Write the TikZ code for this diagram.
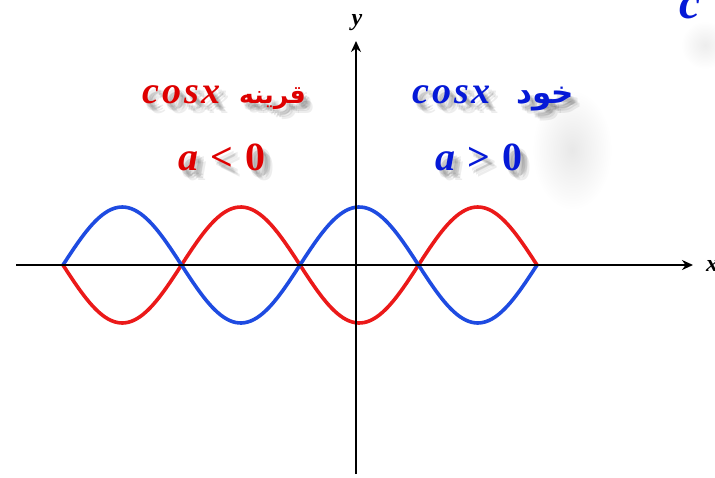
\documentclass[tikz,border=0pt]{standalone}
\usepackage{fontspec}
\setmainfont{Liberation Serif}
\newfontfamily\arabicfont[Script=Arabic]{DejaVu Sans}
\TeXXeTstate=1
\usetikzlibrary{arrows.meta}
\definecolor{cred}{RGB}{235,25,25}
\definecolor{cblue}{RGB}{30,75,225}
\definecolor{tred}{RGB}{222,0,0}
\definecolor{tblue}{RGB}{5,25,215}
\newcommand\shtext[5]{%
  \foreach \dx/\dy in {3/4,5/6,7/8,4/7,7/5,9/10}{%
    \node[anchor=#3, inner sep=0pt, #4, text=black, opacity=0.07] at ([shift={(\dx,\dy)}]#2) {#5};}
  \node[anchor=#3, inner sep=0pt, #4] (#1) at (#2) {#5};}
\begin{document}
\begin{tikzpicture}[x=1pt,y=-1pt,
  axis/.style={line width=2.6pt, -{Stealth[length=11pt,width=10pt]}},
  curve/.style={line width=3.6pt},
  mathlbl/.style={font=\bfseries\itshape\fontsize{38}{44}\selectfont},
  ineq/.style={font=\bfseries\fontsize{40}{46}\selectfont},
  arlbl/.style={font=\arabicfont\bfseries\fontsize{#1}{33}\selectfont},
  axlbl/.style={font=\bfseries\itshape\fontsize{24}{28}\selectfont, inner sep=0pt}]
\useasboundingbox (0,0) rectangle (715,477);
\fill[white] (0,0) rectangle (715,477);
% soft haze
\shade[inner color=black!9, outer color=white] (572,150) ellipse (40 and 60);
\shade[inner color=black!7, outer color=white] (705,45) ellipse (24 and 24);
% axes
\coordinate (xl) at (16,265);
\coordinate (xr) at (693,265);
\coordinate (yb) at (356,474);
\coordinate (yt) at (356,41);
% curves
\draw[curve, cred] plot[domain=63:537, samples=160] (\x, {265+58*sin(1.519*(\x-63))});
\draw[curve, cblue] plot[domain=63:537, samples=160] (\x, {265-58*sin(1.519*(\x-63))});
\draw[axis] (xl) -- (xr);
\draw[axis] (yb) -- (yt);
\node[axlbl, anchor=center] (ylab) at (357,23) {y};
\node[axlbl, anchor=center] (xlab) at (712,266) {x};
\node[anchor=base west, inner sep=0pt, text=tblue, font=\bfseries\itshape\fontsize{48}{52}\selectfont] (clab) at (679,18) {c};
% labels
\shtext{rc}{142,103}{base west}{mathlbl, text=tred}{c\hspace{3pt}o\hspace{3pt}s\hspace{3pt}x}
\shtext{ra}{306,103}{base east}{arlbl=25, text=tred}{\beginR قرینه\endR}
\shtext{rineq}{222,170}{base}{ineq, text=tred}{\textit{a}\hspace{12pt}<\hspace{12pt}0}
\shtext{bc}{412,103}{base west}{mathlbl, text=tblue}{c\hspace{3pt}o\hspace{3pt}s\hspace{3pt}x}
\shtext{ba}{574,103}{base east}{arlbl=31, text=tblue}{\beginR خود\endR}
\shtext{bineq}{479,170}{base}{ineq, text=tblue}{\textit{a}\hspace{12pt}>\hspace{12pt}0}
\end{tikzpicture}
\end{document}
